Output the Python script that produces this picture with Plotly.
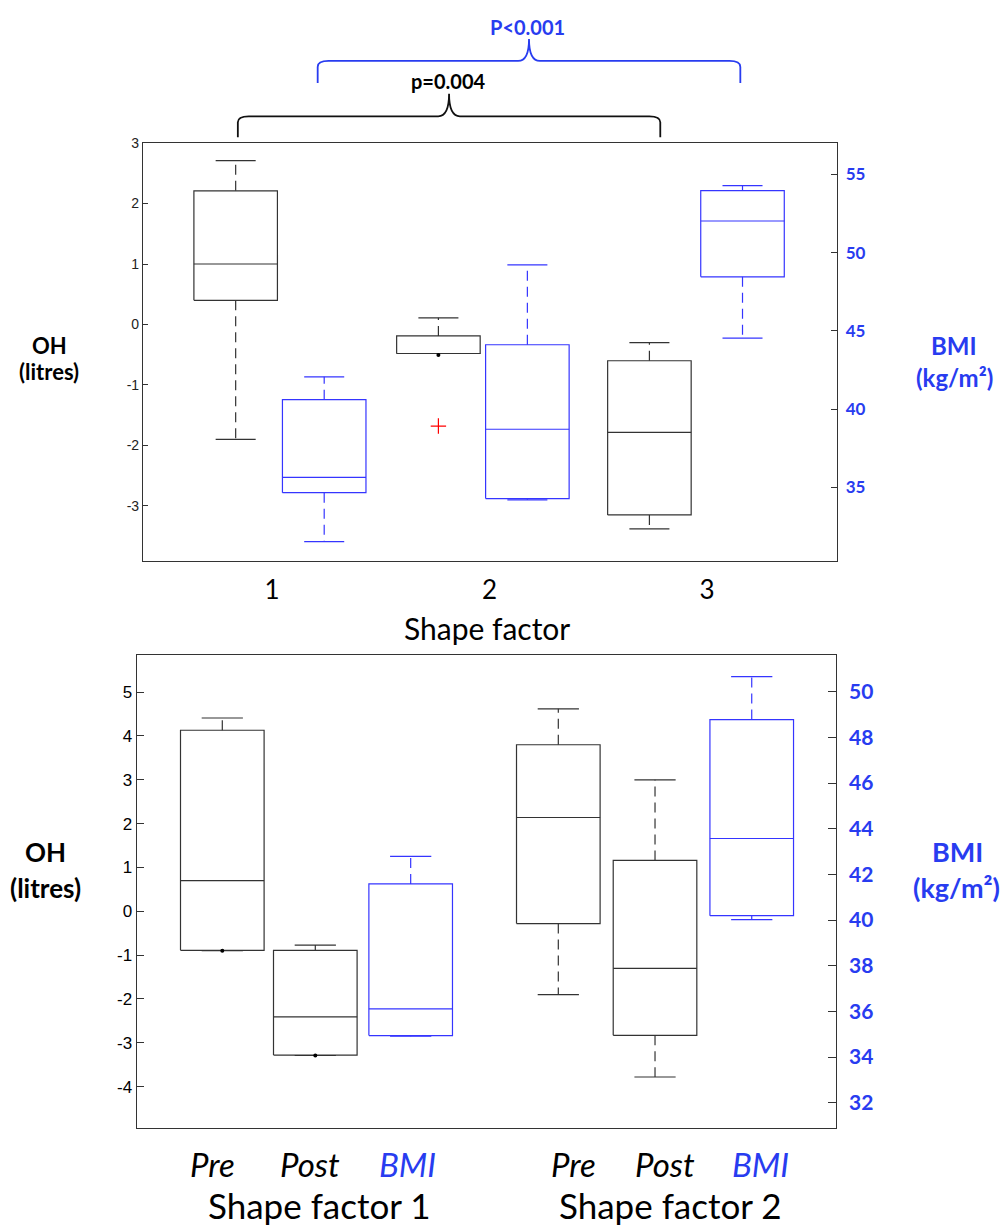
import plotly.graph_objects as go

# ---------------- data ----------------
# Top panel: groups = shape factor 1..3; OH (left axis) and BMI (right axis)
top_groups = ["1", "2", "3"]
top_oh_pos = [0.833, 1.765, 2.735]
top_bmi_pos = [1.240, 2.174, 3.163]
top_oh_low = [-1.90, -0.48, -3.38]
top_oh_q1 = [0.40, -0.48, -3.15]
top_oh_med = [1.00, -0.48, -1.785]
top_oh_q3 = [2.21, -0.19, -0.60]
top_oh_high = [2.71, 0.11, -0.30]
top_oh_outlier_x = [1.765]
top_oh_outlier_y = [-1.68]
top_oh_dot_x = [1.765]
top_oh_dot_y = [-0.505]

top_bmi_low = [31.53, 34.20, 44.53]
top_bmi_q1 = [34.66, 34.28, 48.45]
top_bmi_med = [35.64, 38.71, 52.02]
top_bmi_q3 = [40.60, 44.11, 53.96]
top_bmi_high = [42.06, 49.21, 54.28]

top_left_ticks = [-3, -2, -1, 0, 1, 2, 3]
top_right_ticks = [35, 40, 45, 50, 55]

# Bottom panel: Pre / Post (OH, left axis) and BMI (right axis) per shape factor
bot_labels = ["Pre", "Post", "BMI", "Pre", "Post", "BMI"]
bot_groups = ["Shape factor 1", "Shape factor 2"]
bot_oh_pos = [1.0, 1.979, 4.537, 5.555]
bot_oh_low = [-0.90, -3.29, -1.90, -3.78]
bot_oh_q1 = [-0.89, -3.28, -0.28, -2.83]
bot_oh_med = [0.70, -2.41, 2.14, -1.30]
bot_oh_q3 = [4.13, -0.89, 3.80, 1.16]
bot_oh_high = [4.41, -0.77, 4.62, 3.00]
bot_oh_dot_x = [1.0, 1.979]
bot_oh_dot_y = [-0.90, -3.29]

bot_bmi_pos = [2.983, 6.573]
bot_bmi_low = [34.91, 40.02]
bot_bmi_q1 = [34.94, 40.19]
bot_bmi_med = [36.11, 43.57]
bot_bmi_q3 = [41.58, 48.78]
bot_bmi_high = [42.79, 50.66]

bot_left_ticks = [-4, -3, -2, -1, 0, 1, 2, 3, 4, 5]
bot_right_ticks = [32, 34, 36, 38, 40, 42, 44, 46, 48, 50]

# ---------------- style ----------------
BLACK = "#333333"
BLUE_LINE = "#3535ff"
BLUE_TXT = "#283cf0"
FW = 1008
FH = 1225


def Y(ypx):
    """pixel row (from top) -> paper fraction, with small render correction"""
    corr = (ypx - 7) / 0.995
    return 1 - corr / FH


def box_traces(pos, low, q1, med, q3, high, hw, cw, color, xa, ya):
    bx, by, wx, wy, cx, cy = [], [], [], [], [], []
    for p, l, a, m, b, h in zip(pos, low, q1, med, q3, high):
        bx += [p - hw, p + hw, p + hw, p - hw, p - hw, None, p - hw, p + hw, None]
        by += [a, a, b, b, a, None, m, m, None]
        wx += [p, p, None, p, p, None]
        wy += [b, h, None, a, l, None]
        cx += [p - cw, p + cw, None, p - cw, p + cw, None]
        cy += [h, h, None, l, l, None]
    common = dict(mode="lines", xaxis=xa, yaxis=ya, showlegend=False, hoverinfo="skip")
    return [
        go.Scatter(x=wx, y=wy, line=dict(color=color, width=1.2, dash="10px,6px"), **common),
        go.Scatter(x=cx, y=cy, line=dict(color=color, width=1.2), **common),
        go.Scatter(x=bx, y=by, line=dict(color=color, width=1.2), **common),
    ]


fig = go.Figure()
# top panel
for t in box_traces(top_oh_pos, top_oh_low, top_oh_q1, top_oh_med, top_oh_q3, top_oh_high,
                    0.192, 0.092, BLACK, "x", "y"):
    fig.add_trace(t)
for t in box_traces(top_bmi_pos, top_bmi_low, top_bmi_q1, top_bmi_med, top_bmi_q3, top_bmi_high,
                    0.192, 0.092, BLUE_LINE, "x", "y2"):
    fig.add_trace(t)
fig.add_trace(go.Scatter(x=top_oh_outlier_x, y=top_oh_outlier_y, mode="markers", xaxis="x", yaxis="y",
                         marker=dict(symbol="cross-thin", size=11, line=dict(color="red", width=1.2)),
                         showlegend=False, hoverinfo="skip"))
fig.add_trace(go.Scatter(x=top_oh_dot_x, y=top_oh_dot_y, mode="markers", xaxis="x", yaxis="y",
                         marker=dict(size=4, color="black"), showlegend=False, hoverinfo="skip"))

# bottom panel
for t in box_traces(bot_oh_pos, bot_oh_low, bot_oh_q1, bot_oh_med, bot_oh_q3, bot_oh_high,
                    0.44, 0.217, BLACK, "x2", "y3"):
    fig.add_trace(t)
for t in box_traces(bot_bmi_pos, bot_bmi_low, bot_bmi_q1, bot_bmi_med, bot_bmi_q3, bot_bmi_high,
                    0.44, 0.217, BLUE_LINE, "x2", "y4"):
    fig.add_trace(t)
fig.add_trace(go.Scatter(x=bot_oh_dot_x, y=bot_oh_dot_y, mode="markers", xaxis="x2", yaxis="y3",
                         marker=dict(size=4, color="black"), showlegend=False, hoverinfo="skip"))

ax_common = dict(showline=True, linecolor=BLACK, linewidth=1.2, showgrid=False, zeroline=False)


def hy(v):
    return str(v).replace("−", "-")


top_dom_x = [143 / FW, 836.7 / FW]
top_dom_y = [Y(560.7), Y(142.3)]
bot_dom_x = [136.7 / FW, 836 / FW]
bot_dom_y = [Y(1128.3), Y(654.7)]

fig.update_layout(
    width=FW, height=FH,
    margin=dict(l=0, r=0, t=0, b=0),
    paper_bgcolor="white", plot_bgcolor="white",
    showlegend=False,
    xaxis=dict(domain=top_dom_x, range=[0.407, 3.596], anchor="y", mirror=True,
               tickvals=[1, 2, 3], ticktext=top_groups, ticks="",
               tickfont=dict(family="Lato", size=26, color="black"), ticklabelstandoff=6,
               **ax_common),
    yaxis=dict(domain=top_dom_y, range=[-3.91, 3.0], anchor="x", mirror=True,
               tickvals=top_left_ticks, ticktext=[hy(v) for v in top_left_ticks],
               ticks="inside", ticklen=5, tickcolor=BLACK,
               tickfont=dict(family="Liberation Sans", size=14, color="#222"),
               **ax_common),
    yaxis2=dict(overlaying="y", side="right", anchor="x", range=[30.3, 57.0],
                tickvals=top_right_ticks, ticks="inside", ticklen=6, tickcolor=BLACK,
                tickfont=dict(family="Lato", size=17, color=BLUE_TXT, weight="bold"),
                ticklabelstandoff=8,
                showline=False, showgrid=False, zeroline=False),
    xaxis2=dict(domain=bot_dom_x, range=[0.099, 7.46], anchor="y3", mirror=True,
                showticklabels=False, ticks="", **ax_common),
    yaxis3=dict(domain=bot_dom_y, range=[-4.934, 5.854], anchor="x2", mirror=True,
                tickvals=bot_left_ticks, ticktext=[hy(v) for v in bot_left_ticks],
                ticks="inside", ticklen=7,
                tickcolor=BLACK, tickfont=dict(family="Liberation Sans", size=17, color="black"),
                **ax_common),
    yaxis4=dict(overlaying="y3", side="right", anchor="x2", range=[30.91, 51.62],
                tickvals=bot_right_ticks, ticks="inside", ticklen=8,
                tickcolor=BLACK, tickfont=dict(family="Lato", size=21, color=BLUE_TXT, weight="bold"),
                ticklabelstandoff=12,
                showline=False, showgrid=False, zeroline=False),
)

ann = []


def txt(x, y, text, size, color="black", bold=False, italic=False):
    t = text
    if bold:
        t = "<b>" + t + "</b>"
    if italic:
        t = "<i>" + t + "</i>"
    ann.append(dict(x=x / FW, y=Y(y), xref="paper", yref="paper",
                    text=t, showarrow=False, xanchor="center", yanchor="middle",
                    font=dict(family="Lato", size=size, color=color)))


# axis titles
txt(49, 345, "OH", 22, bold=True)
txt(49, 371, "(litres)", 22, bold=True)
txt(954, 345, "BMI", 24, color=BLUE_TXT, bold=True)
txt(954, 377, "(kg/m²)", 24, color=BLUE_TXT, bold=True)
txt(487, 628, "Shape factor", 30)

txt(45, 852, "OH", 26, bold=True)
txt(45, 888, "(litres)", 26, bold=True)
txt(957, 852, "BMI", 27, color=BLUE_TXT, bold=True)
txt(956, 888, "(kg/m²)", 27, color=BLUE_TXT, bold=True)

# bottom category labels
bot_label_pos = [bot_oh_pos[0], bot_oh_pos[1], bot_bmi_pos[0], bot_oh_pos[2], bot_oh_pos[3], bot_bmi_pos[1]]
bot_label_dx = [-0.1, -0.06, -0.03, 0.16, 0.1, 0.09]
for p, dx, lab in zip(bot_label_pos, bot_label_dx, bot_labels):
    ann.append(dict(x=p + dx, y=Y(1165), xref="x2", yref="paper", text="<i>" + lab + "</i>",
                    showarrow=False, xanchor="center", yanchor="middle",
                    font=dict(family="Lato", size=33, color=BLUE_TXT if lab == "BMI" else "black")))
txt(319, 1206, bot_groups[0], 35)
txt(670, 1206, bot_groups[1], 35)

# p-value labels
txt(527, 26, "P<0.001", 20, color=BLUE_TXT, bold=True)
txt(448, 80, "p=0.004", 20, bold=True)

fig.update_layout(annotations=ann)


def brace(x0, x1, y_end, y_line, y_tip, color):
    xm = (x0 + x1) / 2
    d = 0.05
    ye, yl, yt = Y(y_end), Y(y_line), Y(y_tip)
    yr = Y(y_line + 6)
    path = (f"M {x0},{ye} L {x0},{yr} Q {x0},{yl} {x0 + d},{yl} "
            f"L {xm - d},{yl} Q {xm},{yl} {xm},{yt} Q {xm},{yl} {xm + d},{yl} "
            f"L {x1 - d},{yl} Q {x1},{yl} {x1},{yr} L {x1},{ye}")
    return dict(type="path", xref="x", yref="paper", path=path,
                line=dict(color=color, width=1.8))


fig.update_layout(shapes=[
    brace(top_oh_pos[0] + 0.01, top_oh_pos[2] + 0.05, 136.5, 115.5, 93, "#111111"),
    brace(top_bmi_pos[0] - 0.03, top_bmi_pos[2] - 0.01, 82, 60, 38, BLUE_TXT),
])

fig.write_html("out.html")
